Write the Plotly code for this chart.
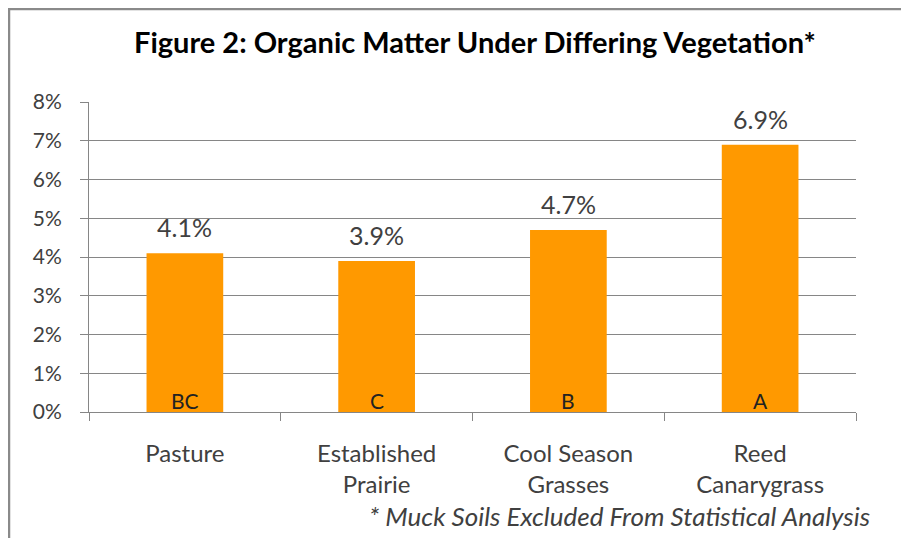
import plotly.graph_objects as go

categories = ["Pasture", "Established<br>Prairie", "Cool Season<br>Grasses", "Reed<br>Canarygrass"]
values = [4.1, 3.9, 4.7, 6.9]
value_labels = ["4.1%", "3.9%", "4.7%", "6.9%"]
group_letters = ["BC", "C", "B", "A"]
y_ticks = [0, 1, 2, 3, 4, 5, 6, 7, 8]
y_tick_labels = ["0%", "1%", "2%", "3%", "4%", "5%", "6%", "7%", "8%"]

OFF = 8  # page body margin
W, H = 901, 530
L, T = 81, 94
pw, ph = 767, 310
R = W - L - pw
B = H - T - ph
FONT = "Lato"
GRAY = "#868686"
TXT = "#404040"

fig = go.Figure()
fig.add_trace(go.Bar(
    x=categories, y=values,
    marker=dict(color="#FF9900", line=dict(width=0)),
    width=0.4, hoverinfo="skip", showlegend=False,
))


def px_x(p):
    return (p - OFF - L) / pw


def px_y(p):
    return (T + ph - (p - OFF)) / ph


annotations = []
for c, v, lab, g in zip(categories, values, value_labels, group_letters):
    annotations.append(dict(x=c, y=v, xref="x", yref="y", text=lab, showarrow=False,
                            yanchor="bottom", yshift=9,
                            font=dict(family=FONT, size=25, color=TXT)))
    annotations.append(dict(x=c, y=0, xref="x", yref="y", text=g, showarrow=False,
                            yanchor="bottom", yshift=-3,
                            font=dict(family=FONT, size=21, color="#222222")))

annotations.append(dict(x=px_x(872), y=px_y(516), xref="paper", yref="paper",
                        text="<i>* Muck Soils Excluded From Statistical Analysis</i>",
                        showarrow=False, xanchor="right", yanchor="middle",
                        font=dict(family=FONT, size=26, color=TXT)))
annotations.append(dict(x=px_x(475), y=px_y(42), xref="paper", yref="paper",
                        text="<b>Figure 2: Organic Matter Under Differing Vegetation*</b>",
                        showarrow=False, xanchor="center", yanchor="middle",
                        font=dict(family=FONT, size=29, color="#000000")))

shapes = [
    dict(type="line", xref="paper", yref="paper", x0=px_x(9), x1=px_x(9), y0=px_y(8), y1=px_y(560),
         line=dict(color="#8a8a8a", width=2.5)),
    dict(type="line", xref="paper", yref="paper", x0=px_x(8), x1=px_x(930), y0=px_y(9), y1=px_y(9),
         line=dict(color="#8a8a8a", width=2.5)),
]

fig.update_layout(
    width=W, height=H,
    margin=dict(l=L, r=R, t=T, b=B, pad=0),
    paper_bgcolor="white", plot_bgcolor="white",
    annotations=annotations, shapes=shapes,
    bargap=0.6,
    xaxis=dict(
        type="category", tickson="boundaries", ticks="outside", ticklen=8, tickcolor=GRAY,
        showline=True, linecolor=GRAY, linewidth=1, showgrid=False,
        tickfont=dict(family=FONT, size=24, color=TXT), ticklabelstandoff=20,
    ),
    yaxis=dict(
        range=[0, 8], tickvals=y_ticks, ticktext=y_tick_labels,
        ticks="outside", ticklen=8, tickcolor=GRAY,
        showline=True, linecolor=GRAY, linewidth=1,
        showgrid=True, gridcolor=GRAY, gridwidth=1, zeroline=False,
        tickfont=dict(family=FONT, size=21, color=TXT), ticklabelstandoff=14,
    ),
)

fig.write_html("out.html")
